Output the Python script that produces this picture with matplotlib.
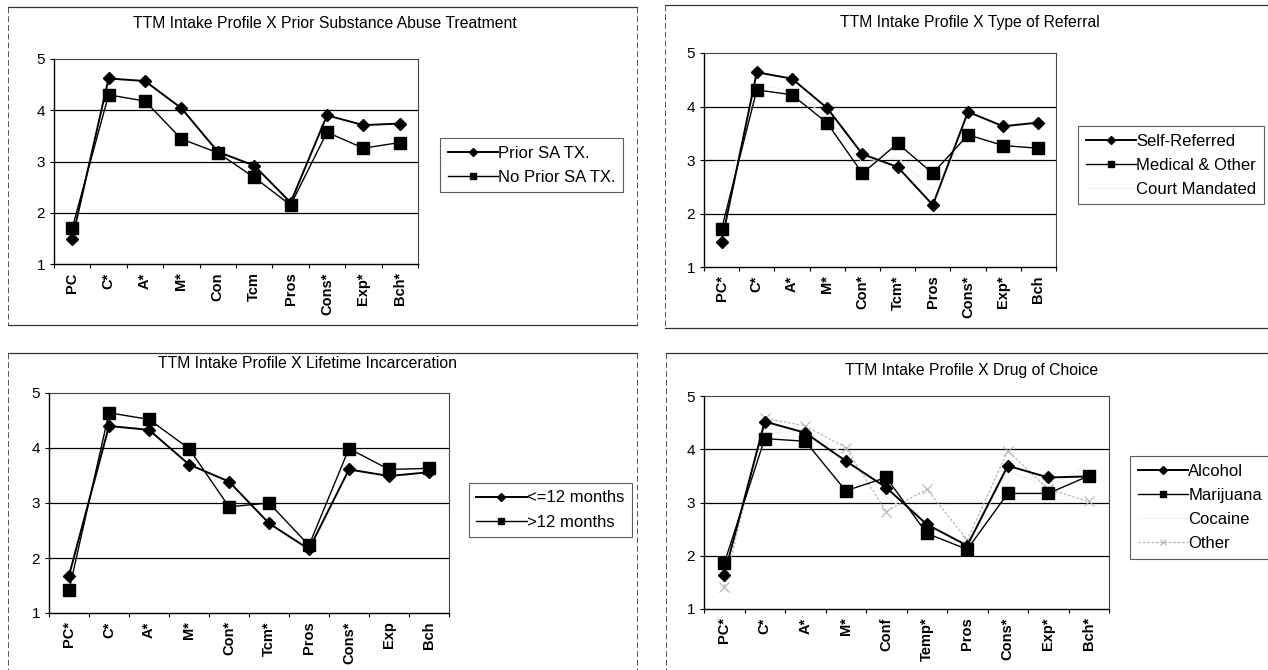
import numpy as np
import matplotlib.pyplot as plt
from matplotlib.lines import Line2D

plt.rcParams['font.family'] = ['Liberation Sans', 'DejaVu Sans']

W, H = 1268, 670

# profile labels per panel
labels_sa = ['PC', 'C*', 'A*', 'M*', 'Con', 'Tcm', 'Pros', 'Cons*', 'Exp*', 'Bch*']
labels_ref = ['PC*', 'C*', 'A*', 'M*', 'Con*', 'Tcm*', 'Pros', 'Cons*', 'Exp*', 'Bch']
labels_inc = ['PC*', 'C*', 'A*', 'M*', 'Con*', 'Tcm*', 'Pros', 'Cons*', 'Exp', 'Bch']
labels_drug = ['PC*', 'C*', 'A*', 'M*', 'Conf', 'Temp*', 'Pros', 'Cons*', 'Exp*', 'Bch*']

# prior substance abuse treatment
prior_tx = [1.49, 4.62, 4.57, 4.04, 3.19, 2.92, 2.20, 3.90, 3.71, 3.74]
no_prior_tx = [1.70, 4.30, 4.18, 3.44, 3.17, 2.69, 2.15, 3.57, 3.26, 3.37]

# type of referral
self_ref = [1.47, 4.64, 4.52, 3.97, 3.11, 2.87, 2.16, 3.90, 3.63, 3.70]
medical = [1.71, 4.31, 4.22, 3.69, 2.75, 3.31, 2.75, 3.47, 3.27, 3.22]
court = [2.00, 4.40, 4.30, 3.80, 2.95, 3.05, 2.45, 3.50, 3.30, 3.30]

# lifetime incarceration
inc_le12 = [1.68, 4.40, 4.33, 3.70, 3.39, 2.63, 2.16, 3.61, 3.49, 3.56]
inc_gt12 = [1.41, 4.64, 4.52, 3.99, 2.93, 3.00, 2.23, 3.99, 3.61, 3.63]

# drug of choice
alcohol = [1.64, 4.52, 4.31, 3.78, 3.28, 2.59, 2.19, 3.69, 3.47, 3.49]
marijuana = [1.86, 4.20, 4.15, 3.22, 3.47, 2.42, 2.12, 3.17, 3.17, 3.50]
cocaine = [1.75, 4.30, 4.35, 3.90, 3.10, 2.60, 2.20, 3.60, 3.30, 3.70]
other = [1.42, 4.58, 4.44, 4.03, 2.83, 3.25, 2.30, 3.97, 3.25, 3.02]

fig = plt.figure(figsize=(W / 100, H / 100), dpi=100)


def fbox(l, t, r, b):
    return [l / W, 1 - b / H, (r - l) / W, (b - t) / H]


def panel(l, t, r, b):
    # outer chart border, sides dashed like the printed page
    kw = dict(transform=fig.transFigure, color='#333333', lw=0.9)
    fig.add_artist(Line2D([l / W, r / W], [1 - t / H, 1 - t / H], **kw))
    fig.add_artist(Line2D([l / W, r / W], [1 - b / H, 1 - b / H], **kw))
    kw.update(ls=(0, (6, 3)), lw=0.7, color='#555555')
    fig.add_artist(Line2D([l / W, l / W], [1 - t / H, 1 - b / H], **kw))
    fig.add_artist(Line2D([r / W, r / W], [1 - t / H, 1 - b / H], **kw))


def setup(ax, labels, title, tx, ty):
    x = np.arange(len(labels))
    ax.set_xlim(-0.5, len(labels) - 0.5)
    ax.set_ylim(1, 5)
    ax.set_yticks([1, 2, 3, 4, 5])
    ax.tick_params(axis='y', labelsize=11, length=3, width=0.8)
    ax.set_xticks(x)
    ax.set_xticklabels(labels, rotation=90, fontsize=10.5, fontweight='bold')
    ax.tick_params(axis='x', length=0, pad=6)
    ax.set_xticks(np.arange(-0.5, len(labels)), minor=True)
    ax.tick_params(axis='x', which='minor', length=3, width=0.8)
    for v in [2, 3, 4]:
        ax.axhline(v, color='black', lw=0.9, zorder=1)
    for s in ['left', 'bottom']:
        ax.spines[s].set_linewidth(1.0)
    for s in ['top', 'right']:
        ax.spines[s].set_linewidth(0.8)
        ax.spines[s].set_color('#444444')
    fig.text(tx / W, 1 - ty / H, title, ha='center', va='center', fontsize=11.3)
    return x


def legend(ax, l, t, handles):
    leg = ax.legend(handles=handles, loc='upper left',
                    bbox_to_anchor=(l / W, 1 - t / H), bbox_transform=fig.transFigure,
                    frameon=True, fancybox=False, fontsize=12, handlelength=3.0,
                    handletextpad=0.05, borderpad=0.45, labelspacing=0.55,
                    borderaxespad=0, markerscale=0.6)
    leg.get_frame().set_edgecolor('#333333')
    leg.get_frame().set_linewidth(0.8)
    return leg


panel(8, 7, 637, 325)
panel(665, 5, 1275, 328)
panel(8, 353, 637, 690)
panel(666, 353, 1275, 690)

dkw = dict(color='black', marker='D', ms=6.5, lw=1.4, zorder=4)
skw = dict(color='black', marker='s', ms=8, lw=1.0, zorder=3)

# prior treatment
ax1 = fig.add_axes(fbox(54, 59, 418, 264))
x = setup(ax1, labels_sa, 'TTM Intake Profile X Prior Substance Abuse Treatment', 325, 23)
h1 = ax1.plot(x, prior_tx, label='Prior SA TX.', **dkw)[0]
h2 = ax1.plot(x, no_prior_tx, label='No Prior SA TX.', **skw)[0]
legend(ax1, 440, 138, [h1, h2])

# type of referral
ax2 = fig.add_axes(fbox(704, 53, 1056, 267))
x = setup(ax2, labels_ref, 'TTM Intake Profile X Type of Referral', 970, 23)
h3 = ax2.plot(x, court, label='Court Mandated', color='#f2f2f2', lw=0.8, zorder=2)[0]
h1 = ax2.plot(x, self_ref, label='Self-Referred', **dkw)[0]
h2 = ax2.plot(x, medical, label='Medical & Other', **skw)[0]
legend(ax2, 1078, 126, [h1, h2, h3])

# lifetime incarceration
ax3 = fig.add_axes(fbox(49, 393, 449, 613))
x = setup(ax3, labels_inc, 'TTM Intake Profile X Lifetime Incarceration', 308, 363)
h1 = ax3.plot(x, inc_le12, label='<=12 months', **dkw)[0]
h2 = ax3.plot(x, inc_gt12, label='>12 months', **skw)[0]
legend(ax3, 469, 483, [h1, h2])

# drug of choice
ax4 = fig.add_axes(fbox(704, 396, 1109, 609))
x = setup(ax4, labels_drug, 'TTM Intake Profile X Drug of Choice', 972, 370)
h3 = ax4.plot(x, cocaine, label='Cocaine', color='#f2f2f2', lw=0.8, zorder=2)[0]
h4 = ax4.plot(x, other, label='Other', color='#b5b5b5', lw=0.9, ls=(0, (2, 1.5)),
              marker='x', ms=7, mew=0.8, zorder=2)[0]
h1 = ax4.plot(x, alcohol, label='Alcohol', **dkw)[0]
h2 = ax4.plot(x, marijuana, label='Marijuana', **skw)[0]
legend(ax4, 1130, 456, [h1, h2, h3, h4])

fig.savefig('out.png', dpi=100)
